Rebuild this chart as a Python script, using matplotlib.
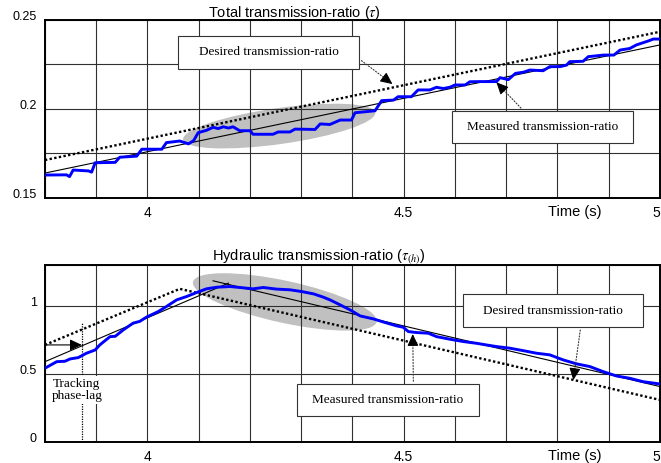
import numpy as np
import matplotlib as mpl
mpl.use('agg')
import matplotlib.pyplot as plt
from matplotlib.patches import Ellipse, Rectangle
from matplotlib.transforms import ScaledTranslation

# ---- data ----
x_grid = [3.8, 3.9, 4.0, 4.1, 4.2, 4.3, 4.4, 4.5, 4.6, 4.7, 4.8, 4.9, 5.0]
x_labels = ['', '', '4', '', '', '', '', '4.5', '', '', '', '', '5']

top_y_grid = [0.15, 0.175, 0.2, 0.225, 0.25]
top_y_labels = ['0.15', '', '0.2', '', '0.25']
bot_y_grid = [0, 0.5, 1.0, 1.3]
bot_y_labels = ['0', '0.5', '1', '']

# total transmission ratio
top_t = [3.800, 3.842, 3.848, 3.855, 3.885, 3.891, 3.898, 3.937, 3.946, 3.979,
         3.989, 4.028, 4.037, 4.063, 4.080, 4.090, 4.099, 4.115, 4.128, 4.138,
         4.148, 4.158, 4.167, 4.180, 4.200, 4.206, 4.245, 4.255, 4.278, 4.288,
         4.327, 4.337, 4.356, 4.376, 4.398, 4.405, 4.444, 4.457, 4.480, 4.489,
         4.515, 4.528, 4.551, 4.564, 4.577, 4.590, 4.600, 4.620, 4.629, 4.649,
         4.681, 4.688, 4.704, 4.718, 4.734, 4.746, 4.772, 4.785, 4.805, 4.818,
         4.824, 4.850, 4.860, 4.890, 4.910, 4.922, 4.941, 4.954, 4.977, 4.987, 5.000]
top_meas = [0.1629, 0.1630, 0.1620, 0.1657, 0.1652, 0.1645, 0.1698, 0.1700, 0.1729, 0.1735,
            0.1774, 0.1774, 0.1811, 0.1820, 0.1804, 0.1822, 0.1867, 0.1880, 0.1897, 0.1890,
            0.1900, 0.1893, 0.1900, 0.1878, 0.1878, 0.1858, 0.1858, 0.1871, 0.1871, 0.1887,
            0.1885, 0.1916, 0.1913, 0.1938, 0.1938, 0.1979, 0.1990, 0.2047, 0.2050, 0.2069,
            0.2069, 0.2107, 0.2107, 0.2122, 0.2115, 0.2122, 0.2135, 0.2135, 0.2153, 0.2154,
            0.2154, 0.2176, 0.2165, 0.2200, 0.2207, 0.2219, 0.2215, 0.2238, 0.2238, 0.2247,
            0.2266, 0.2268, 0.2294, 0.2303, 0.2303, 0.2331, 0.2340, 0.2360, 0.2382, 0.2393, 0.2393]
top_des_t = [3.8, 5.0]
top_des = [0.1713, 0.2434]
top_ref_t = [3.8, 5.0]
top_ref = [0.164, 0.236]

# hydraulic transmission ratio
bot_t = [3.800, 3.823, 3.839, 3.849, 3.865, 3.881, 3.898, 3.907, 3.927, 3.937,
         3.953, 3.972, 3.985, 3.998, 4.021, 4.037, 4.057, 4.076, 4.096, 4.115,
         4.135, 4.161, 4.180, 4.206, 4.226, 4.252, 4.278, 4.301, 4.324, 4.343,
         4.356, 4.376, 4.395, 4.415, 4.441, 4.457, 4.486, 4.499, 4.509, 4.525,
         4.548, 4.564, 4.590, 4.616, 4.642, 4.661, 4.681, 4.707, 4.733, 4.759,
         4.785, 4.811, 4.837, 4.863, 4.889, 4.915, 4.941, 4.967, 5.000]
bot_meas = [0.542, 0.590, 0.593, 0.610, 0.620, 0.652, 0.676, 0.713, 0.774, 0.776,
            0.824, 0.873, 0.886, 0.917, 0.958, 0.995, 1.044, 1.068, 1.098, 1.125,
            1.137, 1.142, 1.135, 1.125, 1.135, 1.123, 1.118, 1.105, 1.088, 1.064,
            1.044, 1.007, 0.971, 0.926, 0.904, 0.885, 0.853, 0.843, 0.811, 0.804,
            0.799, 0.774, 0.755, 0.738, 0.725, 0.713, 0.701, 0.689, 0.671, 0.652,
            0.640, 0.603, 0.574, 0.554, 0.517, 0.485, 0.468, 0.443, 0.426]
bot_des_t = [3.8, 4.063, 5.0]
bot_des = [0.713, 1.125, 0.309]
bot_up_t = [3.8, 4.158]
bot_up = [0.59, 1.167]
bot_down_t = [4.128, 5.0]
bot_down = [1.184, 0.407]
lag_t = 3.872

plt.rcParams['font.family'] = 'Liberation Sans'
plt.rcParams['mathtext.fontset'] = 'stix'

fig = plt.figure(figsize=(6.61, 4.63), dpi=100)
ax1 = fig.add_axes([0.068, 0.5724, 0.9305, 0.3844])
ax2 = fig.add_axes([0.068, 0.0454, 0.9305, 0.3822])

dots = (0, (1, 1))
serif = 'Liberation Serif'


def setup(ax, ygrid, ylabels, ylim):
	ax.set_xlim(3.8, 5.0)
	ax.set_ylim(*ylim)
	ax.set_xticks(x_grid)
	ax.set_xticklabels(x_labels, fontsize=10)
	ax.get_xticklabels()[-1].set_ha('right')
	ax.set_yticks(ygrid)
	ax.set_yticklabels(ylabels, fontsize=9)
	ax.tick_params(length=0, pad=6)
	ax.grid(True, color='#303030', linewidth=0.8)
	for s in ax.spines.values():
		s.set_linewidth(1.4)
	off = ScaledTranslation(0, 3 / 72., fig.dpi_scale_trans)
	for lab in ax.get_yticklabels():
		lab.set_transform(lab.get_transform() + off)
	ax.text(0.861, -0.08, 'Time (s)', transform=ax.transAxes, fontsize=10.5,
	        ha='center', va='center')


def blob(ax, tc, vc, w, h, ang):
	tr = fig.dpi_scale_trans + ScaledTranslation(tc, vc, ax.transData)
	ax.add_patch(Ellipse((0, 0), w, h, angle=ang, transform=tr,
	                     facecolor='#c0c0c0', edgecolor='none', zorder=1))


def label_box(ax, x0, x1, y0, y1, txt):
	ax.add_patch(Rectangle((x0, y0), x1 - x0, y1 - y0, transform=ax.transAxes,
	                       facecolor='white', edgecolor='#333333', linewidth=0.8, zorder=5))
	ax.text((x0 + x1) / 2, (y0 + y1) / 2, txt, transform=ax.transAxes, family=serif,
	        fontsize=9.5, ha='center', va='center', zorder=6)


def pointer(ax, tail, tip):
	ax.annotate('', xy=tip, xytext=tail, xycoords='axes fraction',
	            arrowprops=dict(arrowstyle='-', linestyle=':', linewidth=0.8, color='#333333'),
	            zorder=5)
	p_tip = ax.transAxes.transform(tip)
	p_tail = ax.transAxes.transform(tail)
	d = (p_tail - p_tip) / np.hypot(*(p_tail - p_tip))
	back = ax.transAxes.inverted().transform(p_tip + d * 6)
	ax.annotate('', xy=tip, xytext=back, xycoords='axes fraction',
	            arrowprops=dict(arrowstyle='-|>,head_length=0.6,head_width=0.28',
	                            mutation_scale=12, linewidth=0.8, color='k',
	                            shrinkA=0, shrinkB=0), zorder=5)


# ---- top: total transmission ratio ----
setup(ax1, top_y_grid, top_y_labels, (0.15, 0.25))
blob(ax1, 4.257, 0.1904, 1.94, 0.36, 8)
ax1.plot(top_des_t, top_des, color='k', linestyle=dots, linewidth=1.7, zorder=3)
ax1.plot(top_ref_t, top_ref, color='k', linewidth=0.8, zorder=3)
ax1.plot(top_t, top_meas, color='#0000ff', linewidth=2.1, zorder=4)
ax1.text(0.265, 1.017, r'Total transmission-ratio ($\tau$)', transform=ax1.transAxes,
         fontsize=10.5, ha='left', va='baseline')
label_box(ax1, 0.216, 0.511, 0.725, 0.910, 'Desired transmission-ratio')
pointer(ax1, (0.511, 0.781), (0.565, 0.640))
label_box(ax1, 0.661, 0.956, 0.309, 0.489, 'Measured transmission-ratio')
pointer(ax1, (0.777, 0.494), (0.734, 0.650))

# ---- bottom: hydraulic transmission ratio ----
setup(ax2, bot_y_grid, bot_y_labels, (0, 1.3))
blob(ax2, 4.268, 1.029, 1.88, 0.42, -12.3)
ax2.plot(bot_des_t, bot_des, color='k', linestyle=dots, linewidth=1.7, zorder=3)
ax2.plot(bot_up_t, bot_up, color='k', linewidth=0.8, zorder=3)
ax2.plot(bot_down_t, bot_down, color='k', linewidth=0.8, zorder=3)
ax2.plot(bot_t, bot_meas, color='#0000ff', linewidth=2.1, zorder=4)
ax2.text(0.272, 1.03, r'Hydraulic transmission-ratio ($\tau_{(h)}$)', transform=ax2.transAxes,
         fontsize=10.5, ha='left', va='baseline')
label_box(ax2, 0.679, 0.973, 0.648, 0.836, 'Desired transmission-ratio')
pointer(ax2, (0.871, 0.648), (0.859, 0.350))
label_box(ax2, 0.409, 0.705, 0.147, 0.328, 'Measured transmission-ratio')
pointer(ax2, (0.599, 0.328), (0.598, 0.610))

# tracking phase-lag marker
ax2.plot([lag_t, lag_t], [0, 0.882], color='k', linestyle=dots, linewidth=0.9, zorder=3)
ax2.annotate('', xy=(lag_t, bot_des[0]), xytext=(3.8, bot_des[0]),
             arrowprops=dict(arrowstyle='-|>,head_length=0.6,head_width=0.28',
                             mutation_scale=12, linewidth=0.8, color='k',
                             shrinkA=0, shrinkB=0), zorder=5)
ax2.text(0.052, 0.294, 'Tracking\nphase-lag', transform=ax2.transAxes, family=serif,
         fontsize=9.5, ha='center', va='center', linespacing=1.1, zorder=6,
         bbox=dict(facecolor='white', edgecolor='none', pad=1))

plt.savefig('out.png', dpi=100)
